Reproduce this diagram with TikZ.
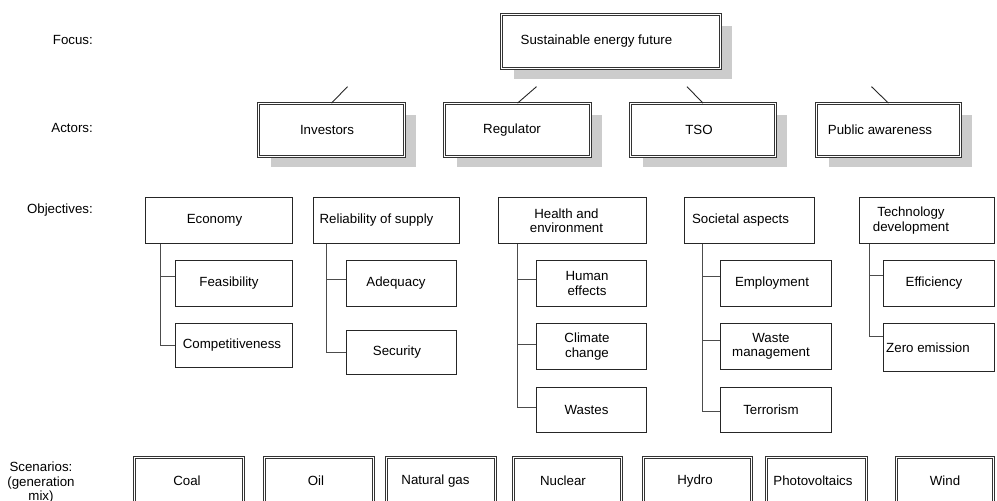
\documentclass[tikz,border=0pt]{standalone}
\usepackage{fontspec}
\setmainfont{Liberation Sans}
\usetikzlibrary{shadows}
\newcommand\shl[2]{\kern-#1pt\relax#2\kern#1pt\relax}
\begin{document}
\begin{tikzpicture}[x=1pt,y=-1pt,
  every node/.style={font=\fontsize{13.3}{14.5}\selectfont, inner sep=0pt},
  dbox/.style 2 args={draw=black!80, line width=0.9pt, double=white, double distance=1.4pt, fill=white,
     minimum width=#1pt-3.2pt, minimum height=#2pt-3.2pt},
  shad/.style={drop shadow={shadow xshift=12pt, shadow yshift=-11pt, fill=black!20, opacity=1}},
  obox/.style 2 args={draw=black!85, line width=0.9pt, fill=white, minimum width=#1pt-0.9pt, minimum height=#2pt-0.9pt},
  tree/.style={draw=black!70, line width=0.9pt},
  conn/.style={draw=black!85, line width=0.9pt}]
\path[use as bounding box] (0,0) rectangle (997,501);
\clip (0,0) rectangle (997,501);

% labels
\node[anchor=east] (lfocus) at (93,40) {Focus:};
\node[anchor=east] (lact) at (93,128) {Actors:};
\node[anchor=east] (lobj) at (93,210) {Objectives:};
\node[align=center, anchor=north] (lscen) at (41,462) {Scenarios:\\(generation\\mix)};

% focus and actors
\node[dbox={222}{57}, shad] (focus) at (611,41.5) {\shl{14.5}{Sustainable energy future}};
\node[dbox={149}{56}, shad] (inv) at (331.5,130) {\shl{4.5}{Investors}};
\node[dbox={149}{56}, shad] (reg) at (517.5,130) {\shl{5.5}{Regulator}};
\node[dbox={148}{56}, shad] (tso) at (703,130) {\shl{4}{TSO}};
\node[dbox={147}{56}, shad] (pub) at (888.5,130) {\shl{8.5}{Public awareness}};

\draw[conn] (inv.north) -- ++(16,-16.5) coordinate (invup);
\draw[conn] (reg.north) -- ++(19,-16.5) coordinate (regup);
\draw[conn] (tso.north) -- ++(-16,-16.5) coordinate (tsoup);
\draw[conn] (pub.north) -- ++(-17,-16.5) coordinate (pubup);

% objectives
\node[obox={148}{47}] (econ) at (219,220.5) {\shl{4.5}{Economy}};
\node[obox={118}{47}] (feas) at (234,283.5) {\shl{5}{Feasibility}};
\node[obox={118}{45}] (comp) at (234,345.5) {\shl{2}{Competitiveness}};

\node[obox={147}{47}] (rel) at (386.5,220.5) {\shl{10}{Reliability of supply}};
\node[obox={111}{47}] (adeq) at (401.5,283.5) {\shl{5.5}{Adequacy}};
\node[obox={111}{45}] (sec) at (401.5,352.5) {\shl{4.5}{Security}};

\node[obox={149}{47}, align=center] (health) at (572.5,220.5) {\shl{6}{Health and}\\\shl{6}{environment}};
\node[obox={111}{47}, align=center] (human) at (591.5,283.5) {\shl{4.5}{Human}\\\shl{4.5}{effects}};
\node[obox={111}{47}, align=center] (clim) at (591.5,346.5) {\shl{4.5}{Climate}\\\shl{4.5}{change}};
\node[obox={111}{46}] (wastes) at (591.5,410) {\shl{5}{Wastes}};

\node[obox={131}{47}] (soc) at (749.5,220.5) {\shl{9}{Societal aspects}};
\node[obox={112}{47}] (empl) at (776,283.5) {\shl{4}{Employment}};
\node[obox={112}{47}, align=center] (wmgmt) at (776,346.5) {\shl{5}{Waste}\\\shl{5}{management}};
\node[obox={112}{46}] (terr) at (776,410) {\shl{5}{Terrorism}};

\node[obox={136}{47}, align=center] (tech) at (927,220.5) {\shl{16}{Technology}\\\shl{16}{development}};
\node[obox={112}{47}] (eff) at (939,283.5) {\shl{5}{Efficiency}};
\node[obox={112}{49}] (zero) at (939,347.5) {\shl{11}{Zero emission}};

% trees
\draw[tree] ([xshift=15pt]econ.south west) |- ([yshift=7.5pt]feas.west);
\draw[tree] ([xshift=15pt]econ.south west) |- (comp.west);
\draw[tree] ([xshift=13pt]rel.south west) |- ([yshift=4.5pt]adeq.west);
\draw[tree] ([xshift=13pt]rel.south west) |- (sec.west);
\draw[tree] ([xshift=19pt]health.south west) |- ([yshift=4.5pt]human.west);
\draw[tree] ([xshift=19pt]health.south west) |- ([yshift=2.5pt]clim.west);
\draw[tree] ([xshift=19pt]health.south west) |- ([yshift=3pt]wastes.west);
\draw[tree] ([xshift=18pt]soc.south west) |- ([yshift=7.5pt]empl.west);
\draw[tree] ([xshift=18pt]soc.south west) |- ([yshift=6.5pt]wmgmt.west);
\draw[tree] ([xshift=18pt]soc.south west) |- ([yshift=-1pt]terr.west);
\draw[tree] ([xshift=10pt]tech.south west) |- ([yshift=8.5pt]eff.west);
\draw[tree] ([xshift=10pt]tech.south west) |- ([yshift=11.5pt]zero.west);

% scenarios
\node[dbox={112}{50}] (coal) at (189,481) {\shl{2}{Coal}};
\node[dbox={112}{50}] (oil) at (319,481) {\shl{3}{Oil}};
\node[dbox={112}{50}] (gas) at (441,481) {\shl{5.5}{Natural gas}};
\node[dbox={111}{50}] (nuc) at (567.5,481) {\shl{4.5}{Nuclear}};
\node[dbox={111}{50}] (hyd) at (697.5,481) {\shl{2.5}{Hydro}};
\node[dbox={103}{50}] (pv) at (816.5,481) {\shl{3.5}{Photovoltaics}};
\node[dbox={100}{50}] (wind) at (945,481) {Wind};
\end{tikzpicture}
\end{document}
